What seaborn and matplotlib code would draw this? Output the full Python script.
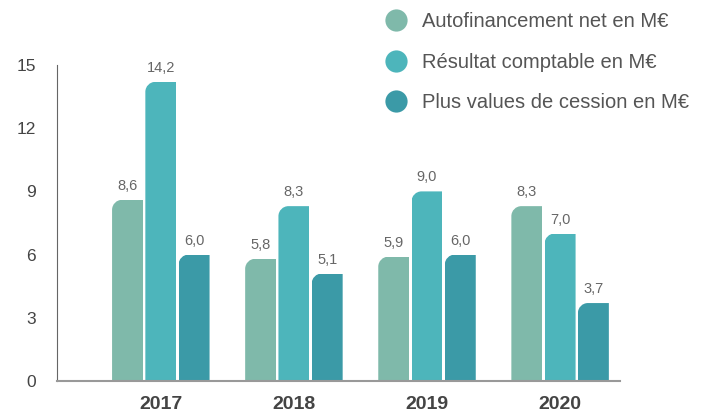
import matplotlib
matplotlib.use("Agg")
import matplotlib.pyplot as plt
import seaborn as sns
import pandas as pd
from matplotlib.path import Path
from matplotlib.patches import PathPatch
from matplotlib.lines import Line2D

years = ["2017", "2018", "2019", "2020"]
series = ["Autofinancement net en M€", "Résultat comptable en M€", "Plus values de cession en M€"]
autofin = [8.6, 5.8, 5.9, 8.3]
resultat = [14.2, 8.3, 9.0, 7.0]
plusvalues = [6.0, 5.1, 6.0, 3.7]
yticks = [0, 3, 6, 9, 12, 15]
colors = ["#7fb9aa", "#4db5bb", "#3b9aa7"]

rows = []
for s, vals in zip(series, [autofin, resultat, plusvalues]):
    for y, v in zip(years, vals):
        rows.append({"year": y, "series": s, "value": v})
df = pd.DataFrame(rows)

sns.set_style("white")
plt.rcParams["font.family"] = ["Liberation Sans", "DejaVu Sans"]

fig = plt.figure(figsize=(7.13, 4.16), dpi=100)
ax = fig.add_axes([57/713, 35/416, (620-57)/713, (381-65)/416])
sns.barplot(data=df, x="year", y="value", hue="series", palette=colors,
            hue_order=series, order=years, width=0.75, gap=0.07,
            saturation=1, ax=ax, legend=False, errorbar=None)

ax.set_ylim(0, 15)
ax.set_xlim(-0.78, 3.45)
ax.set_yticks(yticks)
ax.set_yticklabels([str(t) for t in yticks], fontsize=12.5, color="#444444")
ax.set_xlabel("")
ax.set_ylabel("")
for lab in ax.get_xticklabels():
    lab.set_fontweight("bold")
    lab.set_fontsize(14)
    lab.set_color("#444444")
ax.tick_params(axis="y", length=9, width=1, color="#777777", pad=6)
ax.tick_params(axis="x", length=0, pad=11)
sns.despine(ax=ax, top=True, right=True)
ax.spines["left"].set_color("#666666")
ax.spines["bottom"].set_color("#999999")
ax.spines["bottom"].set_linewidth(1.5)

# rounded top-left corners and value labels
fig.canvas.draw()
px_x = ax.transData.transform((1, 0))[0] - ax.transData.transform((0, 0))[0]
px_y = ax.transData.transform((0, 1))[1] - ax.transData.transform((0, 0))[1]
rx, ry = 10 / px_x, 10 / px_y
k = 0.5523
for bar in ax.patches:
    x0, y0 = bar.get_x(), bar.get_y()
    w, h = bar.get_width(), bar.get_height()
    x1, y1 = x0 + w, y0 + h
    verts = [(x0, y0), (x0, y1 - ry),
             (x0, y1 - ry + k * ry), (x0 + rx - k * rx, y1), (x0 + rx, y1),
             (x1, y1), (x1, y0), (x0, y0)]
    codes = [Path.MOVETO, Path.LINETO, Path.CURVE4, Path.CURVE4, Path.CURVE4,
             Path.LINETO, Path.LINETO, Path.CLOSEPOLY]
    clip = PathPatch(Path(verts, codes), transform=ax.transData, facecolor="none", edgecolor="none")
    bar.set_clip_path(clip)
    bar.set_edgecolor("none")
    val = h
    ax.annotate(f"{val:.1f}".replace(".", ","), (x0 + w / 2, y1), xytext=(0, 5),
                textcoords="offset points", ha="center", va="bottom",
                fontsize=10.5, color="#666666", annotation_clip=False)

handles = [Line2D([0], [0], marker="o", linestyle="", markersize=16,
                  markerfacecolor=c, markeredgecolor="none") for c in colors]
fig.legend(handles, series, loc="upper left", bbox_to_anchor=(372/713, 1 - 4/416),
           frameon=False, fontsize=14.5, labelcolor="#555555", handletextpad=0.5,
           labelspacing=1.07, borderaxespad=0, handlelength=1.6)

fig.savefig("out.png", dpi=100)
